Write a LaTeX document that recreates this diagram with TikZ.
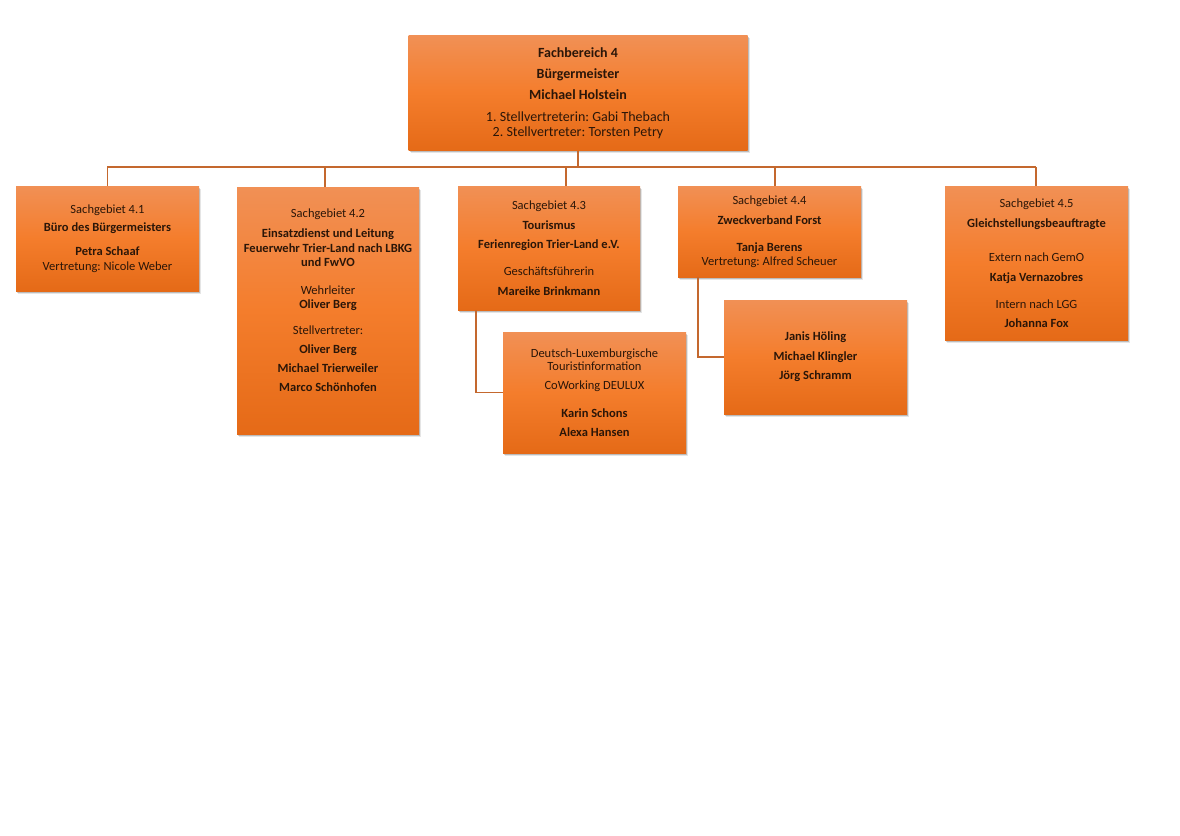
\documentclass[tikz,border=0pt]{standalone}
\usepackage{fontspec}
\setmainfont{Carlito}
\usetikzlibrary{shadows,calc}
\definecolor{boxtop}{HTML}{F19055}
\definecolor{boxmid}{HTML}{F47D2C}
\definecolor{boxbot}{HTML}{E56A17}
\definecolor{linec}{HTML}{C4682E}
\definecolor{txtc}{HTML}{2B1608}
\frenchspacing
\begin{document}
\begin{tikzpicture}[x=1pt,y=-1pt,
  box/.style={rectangle, inner sep=0pt, top color=boxtop, bottom color=boxbot, middle color=boxmid,
    drop shadow={shadow xshift=2.2pt,shadow yshift=-2.8pt,fill=black,opacity=0.10},
    drop shadow={shadow xshift=1.1pt,shadow yshift=-1.5pt,fill=black,opacity=0.18},
    align=center, text=txtc, font=\fontsize{12.5}{14.5}\selectfont},
  txt/.style={align=center, text=txtc, inner sep=0pt, font=\fontsize{12.5}{14.5}\selectfont},
  conn/.style={draw=linec, line width=1.4pt},
]
\fill[white] (0,0) rectangle (1180,835);
\useasboundingbox (0,0) rectangle (1180,835);

\node[box, minimum width=339pt, minimum height=115pt, font=\fontsize{14}{16}\selectfont] (fb4) at (578,93)
  {\textbf{Fachbereich 4}\\[5pt]\textbf{Bürgermeister}\\[5.5pt]\textbf{Michael Holstein}\\[5.5pt]1. Stellvertreterin: Gabi Thebach\\[-1pt]2. Stellvertreter: Torsten Petry};

\node[box, minimum width=183pt, minimum height=105pt] (b41) at (107.5,238.5)
  {Sachgebiet 4.1\\[3.7pt]\textbf{Büro des Bürgermeisters}\\[10pt]\textbf{Petra Schaaf}\\Vertretung: Nicole Weber};

\node[box, minimum width=182pt, minimum height=247pt] (b42) at (328,310.5) {};
\node[txt] (t42) at ($(b42.center)+(0,-10.5)$)
  {Sachgebiet 4.2\\[6pt]\textbf{Einsatzdienst und Leitung}\\\textbf{Feuerwehr Trier-Land nach LBKG}\\\textbf{und FwVO}\\[13pt]Wehrleiter\\\textbf{Oliver Berg}\\[11pt]Stellvertreter:\\[4.5pt]\textbf{Oliver Berg}\\[4.5pt]\textbf{Michael Trierweiler}\\[4.5pt]\textbf{Marco Schönhofen}};

\node[box, minimum width=182pt, minimum height=124pt] (b43) at (549,248)
  {Sachgebiet 4.3\\[5.5pt]\textbf{Tourismus}\\[4.5pt]\textbf{Ferienregion Trier-Land e.V.}\\[13pt]Geschäftsführerin\\[5.5pt]\textbf{Mareike Brinkmann}};

\node[box, minimum width=183pt, minimum height=91pt] (b44) at (769.5,231.5)
  {Sachgebiet 4.4\\[5.5pt]\textbf{Zweckverband Forst}\\[13pt]\textbf{Tanja Berens}\\[-1pt]Vertretung: Alfred Scheuer};

\node[box, minimum width=183pt, minimum height=154pt] (b45) at (1036.5,263)
  {Sachgebiet 4.5\\[5.5pt]\textbf{Gleichstellungsbeauftragte}\\[20pt]Extern nach GemO\\[5pt]\textbf{Katja Vernazobres}\\[13pt]Intern nach LGG\\[4.5pt]\textbf{Johanna Fox}};

\node[box, minimum width=183pt, minimum height=121pt] (bdl) at (594.5,392.5)
  {Deutsch-Luxemburgische\\[-1pt]Touristinformation\\[4.5pt]CoWorking DEULUX\\[13pt]\textbf{Karin Schons}\\[5pt]\textbf{Alexa Hansen}};

\node[box, minimum width=183pt, minimum height=114pt] (bjh) at (815.5,357)
  {\textbf{Janis Höling}\\[5pt]\textbf{Michael Klingler}\\[5pt]\textbf{Jörg Schramm}};

\coordinate (busL) at (107,167);
\coordinate (busR) at (1036,167);
\coordinate (c42) at ([xshift=-3pt]b42.north);
\coordinate (c43) at ([xshift=17pt]b43.north);
\coordinate (c44) at ([xshift=5.5pt]b44.north);
\coordinate (c45) at ([xshift=-0.5pt]b45.north);
\coordinate (s43) at ([xshift=-73pt]b43.south);
\coordinate (s44) at ([xshift=-71.5pt]b44.south);

\draw[conn] (busL) -- (busR);
\draw[conn] (fb4.south) -- (fb4.south |- busL);
\draw[conn] (b41.north) -- (b41.north |- busL);
\draw[conn] (c42) -- (c42 |- busL);
\draw[conn] (c43) -- (c43 |- busL);
\draw[conn] (c44) -- (c44 |- busL);
\draw[conn] (c45) -- (c45 |- busL);
\draw[conn] (s43) |- (bdl.west);
\draw[conn] (s44) |- (bjh.west);
\end{tikzpicture}
\end{document}
